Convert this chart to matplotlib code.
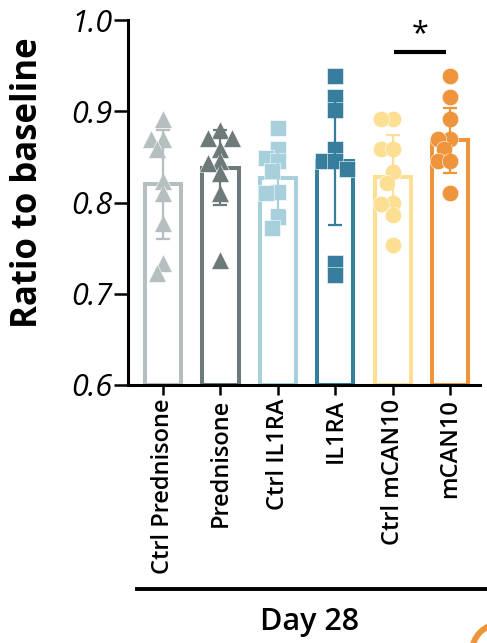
import numpy as np
import matplotlib
matplotlib.use("Agg")
import matplotlib.pyplot as plt
from matplotlib.patches import Circle
from matplotlib.transforms import IdentityTransform

plt.rcParams['font.family'] = ['Open Sans', 'DejaVu Sans']

# --- DATA ---
groups = ["Ctrl Prednisone", "Prednisone", "Ctrl IL1RA", "IL1RA", "Ctrl mCAN10", "mCAN10"]
bar_means = [0.820, 0.838, 0.827, 0.846, 0.828, 0.868]
bar_sd = [0.060, 0.041, 0.035, 0.071, 0.046, 0.036]

ctrl_prednisone = [0.891, 0.870, 0.870, 0.859, 0.824, 0.810, 0.777, 0.734, 0.723]
prednisone = [0.880, 0.871, 0.871, 0.859, 0.846, 0.843, 0.832, 0.810, 0.737]
ctrl_il1ra = [0.882, 0.859, 0.849, 0.846, 0.835, 0.811, 0.810, 0.784, 0.772]
il1ra = [0.939, 0.916, 0.901, 0.859, 0.846, 0.846, 0.837, 0.734, 0.721]
ctrl_mcan10 = [0.892, 0.892, 0.859, 0.859, 0.833, 0.821, 0.800, 0.798, 0.786, 0.753]
mcan10 = [0.939, 0.916, 0.892, 0.870, 0.870, 0.859, 0.846, 0.846, 0.810]
points = [ctrl_prednisone, prednisone, ctrl_il1ra, il1ra, ctrl_mcan10, mcan10]

colors = ["#b6bfbf", "#6e7a7a", "#a7d0dc", "#377d9c", "#fddf93", "#ee943c"]
markers = ["^", "^", "s", "s", "o", "o"]
group_label = "Day 28"

# --- FIGURE ---
W, H = 487, 643
fig = plt.figure(figsize=(W / 100, H / 100), dpi=100)
ax_left, ax_right, ax_top, ax_bot = 128, 480, 20, 385
ax = fig.add_axes([ax_left / W, 1 - ax_bot / H, (ax_right - ax_left) / W, (ax_bot - ax_top) / H])

x = np.arange(len(groups))
ax.set_xlim(-0.61, 5.52)
ax.set_ylim(0.6, 1.0)

px_per_x = (ax_right - ax_left) / (5.52 + 0.61)
px_per_y = (ax_bot - ax_top) / 0.4


def swarm(vals, diam=16.0):
    """simple beeswarm offsets (in x data units), Prism-like tight packing"""
    order = np.argsort(vals)[::-1]
    placed = []
    offs = np.zeros(len(vals))
    cands = [0, -0.5, 0.5, -1, 1, -1.5, 1.5]
    for i in order:
        yi = vals[i] * px_per_y
        xi = 0.0
        for c in cands:
            xi = c * diam * 0.75
            if all(np.hypot(xi - xp, yi - yp) >= diam * 0.7 for xp, yp in placed):
                break
        placed.append((xi, yi))
        offs[i] = xi / px_per_x
    return offs


for i, g in enumerate(groups):
    ax.bar(x[i], bar_means[i] - 0.6, bottom=0.6, width=0.63, facecolor="none",
           edgecolor=colors[i], linewidth=2.9, zorder=2)
    vals = np.array(points[i])
    offs = swarm(vals)
    ax.scatter(x[i] + offs, vals, marker=markers[i], s=165 if markers[i] == "^" else 140,
               color=colors[i], edgecolors="white", linewidths=0.4, zorder=3, clip_on=False)
    ax.errorbar(x[i], bar_means[i], yerr=bar_sd[i], fmt="none", ecolor=colors[i],
                elinewidth=1.6, capsize=5, capthick=1.6, zorder=4)

# significance
ax.plot([4.02, 4.93], [0.965, 0.965], color="black", lw=3, solid_capstyle="butt", clip_on=False)
ax.text(4.47, 0.968, "*", ha="center", va="bottom", fontsize=22)

for s in ["top", "right"]:
    ax.spines[s].set_visible(False)
for s in ["left", "bottom"]:
    ax.spines[s].set_linewidth(2.2)

ax.set_yticks([0.6, 0.7, 0.8, 0.9, 1.0])
ax.set_yticklabels(["0.6", "0.7", "0.8", "0.9", "1.0"], fontsize=22, style="italic")
ax.tick_params(axis="y", length=10, width=1.8, pad=1)
ax.set_xticks(x)
ax.set_xticklabels(groups, rotation=90, fontsize=17, fontweight="semibold")
ax.tick_params(axis="x", length=7, width=1.8, pad=3)
ax.set_ylabel("Ratio to baseline", fontsize=25, fontweight="bold", va="center")
ax.yaxis.set_label_coords(-0.285, 0.555)

# grouping line and label
fig.add_artist(plt.Line2D([137 / W, 1.0], [1 - 589 / H, 1 - 589 / H], color="black", lw=2.8))
fig.text(310 / W, 1 - 622 / H, group_label, ha="center", va="center", fontsize=22, fontweight="semibold")

# clipped orange ring at the corner
fig.add_artist(Circle((500, -9), 28, fill=False, edgecolor="#ee943c", linewidth=4.3,
                      transform=IdentityTransform()))

fig.savefig("out.png", dpi=100)
